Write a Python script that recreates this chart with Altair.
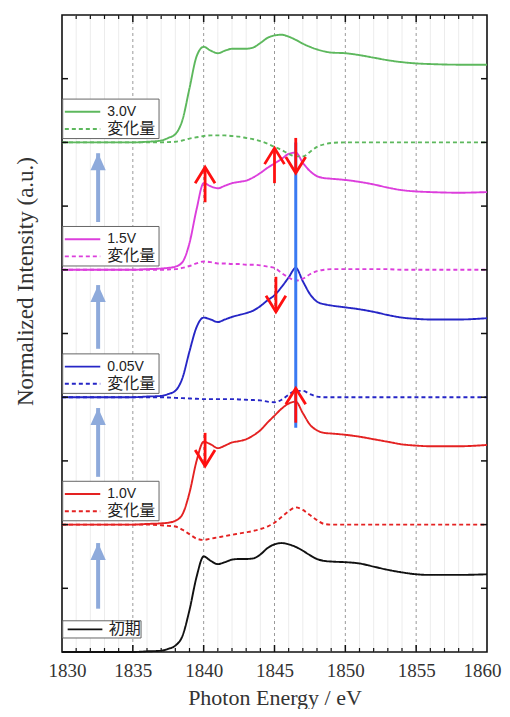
import altair as alt
import pandas as pd

# ---------------- data ----------------
energy = [1830, 1835, 1836, 1837, 1837.5, 1838, 1838.5, 1839, 1839.5, 1840,
          1840.5, 1841, 1841.5, 1842, 1842.5, 1843, 1843.5, 1844, 1844.5, 1845,
          1845.5, 1846, 1846.5, 1847, 1847.5, 1848, 1848.5, 1849, 1850, 1851,
          1852, 1853, 1854, 1855, 1856, 1858, 1860]

initial = [0, 0.0, 0.01, 0.02, 0.05, 0.10, 0.25, 0.66, 1.18, 1.50,
           1.43, 1.38, 1.41, 1.45, 1.46, 1.46, 1.47, 1.53, 1.63, 1.69,
           1.71, 1.69, 1.65, 1.59, 1.52, 1.46, 1.43, 1.42, 1.41, 1.39,
           1.34, 1.29, 1.25, 1.22, 1.21, 1.21, 1.22]

v10 = [0, 0, 0.01, 0.02, 0.03, 0.06, 0.16, 0.50, 1.00, 1.30,
       1.26, 1.20, 1.24, 1.29, 1.31, 1.34, 1.40, 1.48, 1.60, 1.71,
       1.82, 1.90, 1.93, 1.75, 1.57, 1.48, 1.44, 1.43, 1.41, 1.38,
       1.34, 1.30, 1.26, 1.24, 1.23, 1.23, 1.25]
v10_diff = [0, 0, 0, -0.01, -0.02, -0.03, -0.08, -0.15, -0.22, -0.24,
            -0.22, -0.20, -0.18, -0.16, -0.14, -0.12, -0.10, -0.07, -0.03, 0.03,
            0.12, 0.21, 0.27, 0.23, 0.15, 0.07, 0.01, 0, 0, 0,
            0, 0, 0, 0, 0, 0, 0]

v005 = [0, 0, 0.01, 0.02, 0.05, 0.10, 0.30, 0.72, 1.10, 1.25,
        1.22, 1.18, 1.22, 1.26, 1.29, 1.32, 1.36, 1.43, 1.52, 1.60,
        1.73, 1.88, 2.03, 1.82, 1.62, 1.50, 1.46, 1.44, 1.41, 1.38,
        1.34, 1.29, 1.25, 1.23, 1.22, 1.22, 1.24]
v005_diff = [0, 0, 0, 0, -0.005, -0.01, -0.015, -0.02, -0.025, -0.03,
             -0.03, -0.03, -0.03, -0.03, -0.035, -0.04, -0.045, -0.05, -0.07, -0.08,
             -0.04, 0.04, 0.10, 0.10, 0.05, 0.01, 0, 0, 0, 0,
             0, 0, 0, 0, 0, 0, 0]

v15 = [0, 0, 0.01, 0.02, 0.03, 0.05, 0.12, 0.42, 0.95, 1.36,
       1.31, 1.28, 1.32, 1.36, 1.38, 1.40, 1.45, 1.52, 1.60, 1.67,
       1.74, 1.82, 1.84, 1.68, 1.55, 1.47, 1.44, 1.43, 1.41, 1.38,
       1.34, 1.29, 1.25, 1.23, 1.22, 1.21, 1.22]
v15_diff = [0, 0, 0, 0, 0.005, 0.01, 0.03, 0.06, 0.10, 0.13,
            0.12, 0.10, 0.10, 0.09, 0.09, 0.08, 0.08, 0.07, 0.05, 0.03,
            -0.05, -0.12, -0.17, -0.14, -0.07, -0.02, 0, 0.01, 0.01, 0.01,
            0.01, 0.01, 0, 0, 0, 0, 0]

v30 = [0, 0, 0.01, 0.03, 0.07, 0.13, 0.35, 0.85, 1.35, 1.50,
       1.44, 1.40, 1.44, 1.47, 1.47, 1.47, 1.49, 1.56, 1.64, 1.68,
       1.69, 1.66, 1.61, 1.55, 1.50, 1.46, 1.43, 1.41, 1.40, 1.37,
       1.33, 1.29, 1.26, 1.24, 1.23, 1.22, 1.22]
v30_diff = [0, 0, 0, 0, 0.005, 0.01, 0.03, 0.06, 0.08, 0.10,
            0.11, 0.11, 0.11, 0.10, 0.09, 0.07, 0.05, 0.02, -0.02, -0.07,
            -0.12, -0.18, -0.22, -0.22, -0.15, -0.07, -0.03, -0.01, 0, 0,
            0, 0, 0, 0, 0, 0, 0]

series_labels = ["初期", "1.0V", "0.05V", "1.5V", "3.0V"]
series_offsets = [0, 2, 4, 6, 8]
series_colors = ["#111111", "#e42222", "#2626c6", "#dc3edc", "#5db85d"]
series_values = [initial, v10, v005, v15, v30]
series_diffs = [None, v10_diff, v005_diff, v15_diff, v30_diff]
diff_label = "変化量"

# red change arrows
red_arrow_x = [1840.1, 1845.0, 1846.5, 1845.1, 1846.5, 1840.1]
red_arrow_from = [7.06, 7.36, 8.07, 5.89, 3.60, 3.44]
red_arrow_to = [7.61, 7.91, 7.52, 5.34, 4.14, 2.92]

# light-blue step arrows
step_arrow_x = [1832.55, 1832.55, 1832.55, 1832.55]
step_arrow_from = [0.68, 2.75, 4.76, 6.75]
step_arrow_to = [1.71, 3.83, 5.76, 7.83]

# blue marker line
marker_x = [1846.5]
marker_from = [3.52]
marker_to = [8.0]

x_ticks = [1830, 1835, 1840, 1845, 1850, 1855, 1860]

# ---------------- tables ----------------
rows = []
for lab, off, vals, diffs in zip(series_labels, series_offsets, series_values, series_diffs):
    for e, v in zip(energy, vals):
        rows.append({"e": e, "y": off + v, "series": lab, "kind": "solid"})
    if diffs is not None:
        for e, v in zip(energy, diffs):
            rows.append({"e": e, "y": off + v, "series": lab, "kind": "diff"})
lines_df = pd.DataFrame(rows)

box_rows, sample_rows, text_rows = [], [], []
for lab, off, diffs in zip(series_labels, series_offsets, series_diffs):
    if diffs is None:
        box_rows.append({"x0": 1830.05, "x1": 1835.58, "y0": off + 0.22, "y1": off + 0.49})
        sample_rows.append({"x0": 1830.4, "x1": 1832.85, "y": off + 0.355, "series": lab, "kind": "solid"})
        text_rows.append({"x": 1833.3, "y": off + 0.355, "t": lab, "fs": 16})
    else:
        box_rows.append({"x0": 1830.05, "x1": 1836.85, "y0": off + 0.06, "y1": off + 0.68})
        sample_rows.append({"x0": 1830.2, "x1": 1832.7, "y": off + 0.48, "series": lab, "kind": "solid"})
        sample_rows.append({"x0": 1830.2, "x1": 1832.7, "y": off + 0.21, "series": lab, "kind": "diff"})
        text_rows.append({"x": 1833.2, "y": off + 0.48, "t": lab, "fs": 14})
        text_rows.append({"x": 1833.2, "y": off + 0.21, "t": diff_label, "fs": 16})
box_df = pd.DataFrame(box_rows)
sample_df = pd.DataFrame(sample_rows)
text_df = pd.DataFrame(text_rows)

red_df = pd.DataFrame({"x": red_arrow_x, "y0": red_arrow_from, "y1": red_arrow_to})
red_df["dir"] = ["up" if b > a else "down" for a, b in zip(red_arrow_from, red_arrow_to)]
step_df = pd.DataFrame({"x": step_arrow_x, "y0": step_arrow_from, "y1": step_arrow_to})
marker_df = pd.DataFrame({"x": marker_x, "y0": marker_from, "y1": marker_to})

minor_df = pd.DataFrame({"x": [v for v in range(1831, 1860) if v % 5]})
major_df = pd.DataFrame({"x": [v for v in range(1835, 1860, 5)]})
ytick_df = pd.DataFrame({"y": list(range(1, 10))})

# ---------------- scales / axes ----------------
SERIF = "Liberation Serif"
SANS = "Liberation Sans, Noto Sans CJK JP"
W, H = 425, 637

xscale = alt.Scale(domain=[1830, 1860], nice=False, zero=False)
yscale = alt.Scale(domain=[0, 10], nice=False, zero=False)
xaxis = alt.Axis(values=x_ticks, format="d", ticks=False, domain=False, grid=False,
                 labelFont=SERIF, labelFontSize=19, labelColor="#333",
                 labelPadding=9, labelFlush=True, labelFlushOffset=14, labelOverlap=False,
                 title="Photon Energy / eV", titleFont=SERIF, titleFontSize=22,
                 titleFontWeight="normal", titleColor="#333",
                 titleBaseline="alphabetic", titleX=W / 2, titleY=52)
yaxis = alt.Axis(labels=False, ticks=False, domain=False, grid=False,
                 title="Normalized Intensity (a.u.)", titleFont=SERIF, titleFontSize=23,
                 titleFontWeight="normal", titleColor="#333", titleAngle=270,
                 titleBaseline="middle", titleX=-37, titleY=266)


def X(f):
    return alt.X(f, type="quantitative", scale=xscale, axis=xaxis)


def Y(f):
    return alt.Y(f, type="quantitative", scale=yscale, axis=yaxis)


color_enc = alt.Color("series:N", scale=alt.Scale(domain=series_labels, range=series_colors), legend=None)
dash_enc = alt.StrokeDash("kind:N", scale=alt.Scale(domain=["solid", "diff"], range=[[1, 0], [4, 3]]), legend=None)

minor_grid = alt.Chart(minor_df).mark_rule(color="#ececec", strokeWidth=1).encode(x=X("x"))
major_grid = alt.Chart(major_df).mark_rule(color="#9a9a9a", strokeWidth=1, strokeDash=[3, 3]).encode(x=X("x"))

curves = alt.Chart(lines_df).mark_line(interpolate="monotone", strokeWidth=1.9).encode(
    x=X("e"), y=Y("y"), color=color_enc, strokeDash=dash_enc, order=alt.Order("e:Q"))

marker = alt.Chart(marker_df).mark_rule(color="#3a7af2", strokeWidth=3).encode(
    x=X("x"), y=Y("y0"), y2="y1")

step_shaft = alt.Chart(step_df).mark_rule(color="#8eaadb", strokeWidth=4).encode(
    x=X("x"), y=Y("y0"), y2="y1")
step_head = alt.Chart(step_df).mark_point(
    shape="M 0 0 L 0.45 1 L -0.45 1 Z", size=1156, filled=True, color="#8eaadb", opacity=1
).encode(x=X("x"), y=Y("y1"))

red_shaft = alt.Chart(red_df).mark_rule(color="#ff1010", strokeWidth=2.8).encode(
    x=X("x"), y=Y("y0"), y2="y1")
red_head = alt.Chart(red_df).mark_point(
    size=1024, filled=False, color="#ff1010", strokeWidth=2.8, opacity=1
).encode(
    x=X("x"), y=Y("y1"),
    shape=alt.Shape("dir:N", scale=alt.Scale(
        domain=["up", "down"],
        range=["M -0.62 1 L 0 0 L 0.62 1", "M -0.62 -1 L 0 0 L 0.62 -1"]), legend=None))

boxes = alt.Chart(box_df).mark_rect(fill="white", stroke="#666", strokeWidth=1).encode(
    x=X("x0"), x2="x1", y=Y("y0"), y2="y1")
samples = alt.Chart(sample_df).mark_rule(strokeWidth=1.9).encode(
    x=X("x0"), x2="x1", y=Y("y"), color=color_enc, strokeDash=dash_enc)
labels = alt.Chart(text_df).mark_text(align="left", baseline="middle", font=SANS, color="#222").encode(
    x=X("x"), y=Y("y"), text="t:N", size=alt.Size("fs:Q", scale=None))

# inward ticks
bottom_minor = alt.Chart(minor_df).mark_rule(color="#111", strokeWidth=1.2).encode(
    x=X("x"), y=alt.value(H), y2=alt.value(H - 4))
bottom_major = alt.Chart(major_df).mark_rule(color="#111", strokeWidth=1.5).encode(
    x=X("x"), y=alt.value(H), y2=alt.value(H - 7))
top_minor = alt.Chart(minor_df).mark_rule(color="#111", strokeWidth=1.2).encode(
    x=X("x"), y=alt.value(0), y2=alt.value(4))
top_major = alt.Chart(major_df).mark_rule(color="#111", strokeWidth=1.5).encode(
    x=X("x"), y=alt.value(0), y2=alt.value(7))
left_ticks = alt.Chart(ytick_df).mark_rule(color="#111", strokeWidth=1.5).encode(
    y=Y("y"), x=alt.value(0), x2=alt.value(6))
right_ticks = alt.Chart(ytick_df).mark_rule(color="#111", strokeWidth=1.5).encode(
    y=Y("y"), x=alt.value(W), x2=alt.value(W - 6))

chart = alt.layer(
    minor_grid, major_grid, curves, marker, step_shaft, step_head,
    red_shaft, red_head, boxes, samples, labels,
    bottom_minor, bottom_major, top_minor, top_major, left_ticks, right_ticks
).properties(
    width=W, height=H,
    autosize=alt.AutoSizeParams(type="none"),
    padding={"left": 54, "top": 7, "right": 15, "bottom": 57},
    background="white"
).configure_view(stroke="#111", strokeWidth=1.6)

chart.save("out.html", embed_options={"renderer": "svg", "actions": False})
